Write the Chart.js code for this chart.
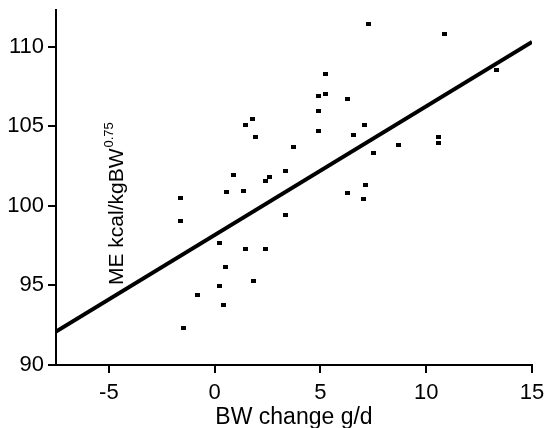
<!DOCTYPE html>
<html>
<head>
<meta charset="utf-8">
<script src="https://cdn.jsdelivr.net/npm/chart.js@4"></script>
<style>
  html, body { margin: 0; padding: 0; background: #fff; }
  canvas { display: block; }
</style>
</head>
<body>
<canvas id="chart" width="546" height="428"></canvas>
<script>
// DATA
const bwChange = [-1.62, -1.61, -1.45, -0.79, 0.25, 0.25, 0.43, 0.53, 0.55, 0.90,
                  1.36, 1.47, 1.48, 1.81, 1.83, 1.94, 2.41, 2.59, 2.41, 3.72,
                  3.36, 3.36, 4.92, 4.92, 4.92, 5.22, 5.25, 6.27, 6.26, 6.54,
                  7.10, 7.03, 7.11, 7.29, 7.49, 8.69, 10.60, 10.60, 10.87, 13.33];
const meIntake = [100.48, 99.04, 92.31, 94.42, 97.65, 94.95, 93.79, 96.16, 100.84, 101.95,
                  100.92, 97.30, 105.05, 105.45, 95.30, 104.32, 101.55, 101.81, 97.28, 103.67,
                  102.20, 99.45, 106.90, 105.93, 104.67, 108.30, 107.03, 106.69, 100.80, 104.42,
                  105.05, 100.45, 101.30, 111.43, 103.31, 103.79, 104.32, 103.94, 110.77, 108.51];
const fitX = [-7.5, 15];
const fitY = [92.1, 110.3];
const xTicks = [-5, 0, 5, 10, 15];
const yTicks = [90, 95, 100, 105, 110];

const FONT = 'Liberation Sans, Arial, sans-serif';

// small flat marker
const marker = document.createElement('canvas');
marker.width = 5;
marker.height = 4;
const mctx = marker.getContext('2d');
mctx.fillStyle = '#000';
mctx.fillRect(0, 0, 5, 4);

// y title sits inside the plot, rotated, with a superscript
const yTitlePlugin = {
    id: 'yTitle',
    afterDraw(chart) {
        const ctx = chart.ctx;
        ctx.save();
        ctx.translate(123, 285);
        ctx.rotate(-Math.PI / 2);
        ctx.fillStyle = '#000';
        ctx.textAlign = 'left';
        ctx.textBaseline = 'alphabetic';
        ctx.font = '21px ' + FONT;
        const main = 'ME kcal/kgBW';
        ctx.fillText(main, 0, 0);
        const w = ctx.measureText(main).width;
        ctx.font = '13px ' + FONT;
        ctx.fillText('0.75', w + 1, -10);
        ctx.restore();
    }
};

const points = bwChange.map((x, i) => ({ x: x, y: meIntake[i] }));
const fitLine = fitX.map((x, i) => ({ x: x, y: fitY[i] }));

const axisCommon = {
    grid: { drawOnChartArea: false, drawTicks: true, tickLength: 8, color: '#000', lineWidth: 2 },
    border: { display: true, color: '#000', width: 2 },
};

new Chart(document.getElementById('chart'), {
    type: 'scatter',
    data: {
        datasets: [{
            data: points,
            pointStyle: marker,
            pointRadius: 3,
            backgroundColor: '#000',
            borderColor: '#000'
        }, {
            data: fitLine,
            showLine: true,
            pointRadius: 0,
            borderColor: '#000',
            borderWidth: 4,
            fill: false
        }]
    },
    options: {
        responsive: false,
        animation: false,
        layout: { padding: { top: 10, right: 14, left: 0, bottom: 0 } },
        plugins: { legend: { display: false }, tooltip: { enabled: false } },
        scales: {
            x: {
                ...axisCommon,
                type: 'linear',
                min: -7.5,
                max: 15,
                afterBuildTicks: s => { s.ticks = xTicks.map(v => ({ value: v })); },
                afterFit: s => { s.height = 63; s.paddingLeft = 0; s.paddingRight = 0; },
                ticks: { color: '#000', font: { family: FONT, size: 22 }, padding: 7, maxRotation: 0 },
                title: { display: true, text: 'BW change g/d', color: '#000',
                         font: { family: FONT, size: 23 }, padding: { top: 0, bottom: -3 } }
            },
            y: {
                ...axisCommon,
                type: 'linear',
                min: 90,
                max: 112.3,
                afterBuildTicks: s => { s.ticks = yTicks.map(v => ({ value: v })); },
                afterFit: s => { s.width = 56; s.paddingTop = 0; s.paddingBottom = 0; },
                ticks: { color: '#000', font: { family: FONT, size: 22 }, padding: 4 }
            }
        }
    },
    plugins: [yTitlePlugin]
});
</script>
</body>
</html>
